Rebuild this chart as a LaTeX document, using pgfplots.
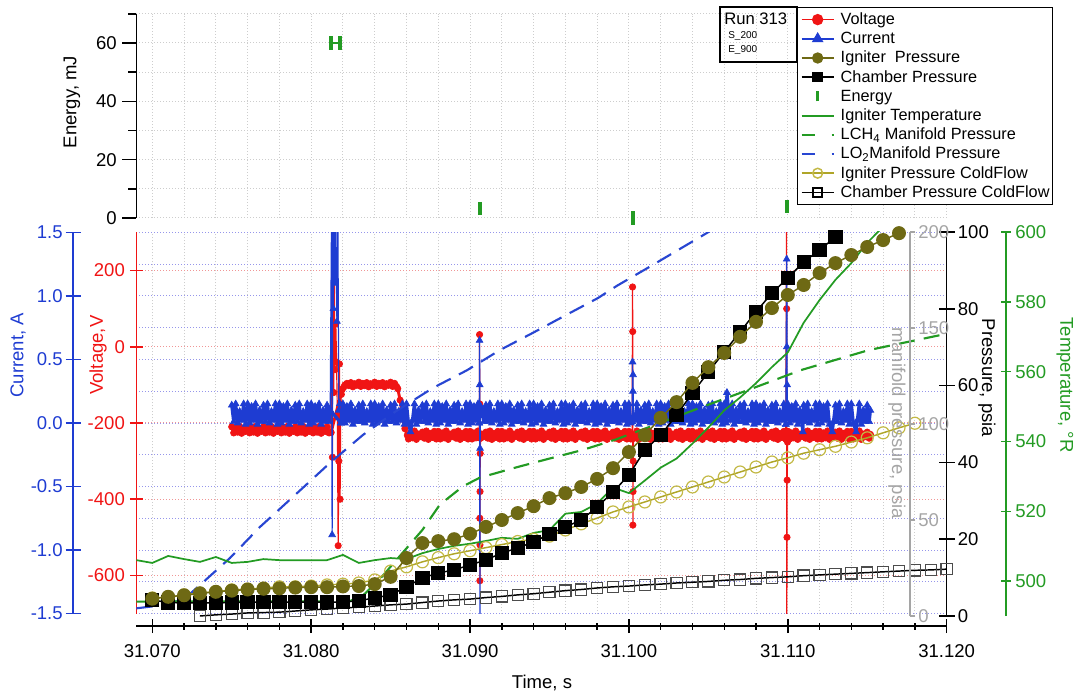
\documentclass[border=0pt]{standalone}
\usepackage{pgfplots}
\pgfplotsset{compat=1.18}
\usepackage{fontspec}
\setmainfont{Liberation Sans}
\definecolor{vred}{RGB}{240,20,20}
\definecolor{cblue}{RGB}{30,60,210}
\definecolor{olv}{RGB}{110,105,20}
\definecolor{olvl}{RGB}{195,185,70}
\definecolor{olvline}{RGB}{175,165,40}
\definecolor{grn}{RGB}{35,155,35}
\definecolor{mgray}{RGB}{165,165,165}
\definecolor{gridgray}{RGB}{205,205,205}
\definecolor{gridblue}{RGB}{150,150,235}
\definecolor{gridred}{RGB}{240,150,150}
\definecolor{lo2blue}{RGB}{40,70,210}
\pgfplotsset{
  myx/.style={scale only axis, anchor=south west, xmin=69, xmax=120, width=607.7pt},
  mycv/.style={at={(102.3pt,60.375pt)}, height=285.75pt},
  mypp/.style={at={(102.3pt,58.5pt)}, height=288pt},
  tickfont/.style={tick label style={font=\fontsize{13.9pt}{16pt}\selectfont},
                   label style={font=\fontsize{13.9pt}{16pt}\selectfont}},
  dotgrid/.style={line width=0.75pt, dash pattern=on 0.75pt off 1.5pt},
  vband/.style={vred, line width=2.2pt, line join=round, line cap=round, mark=*, mark size=2.4pt, mark options={vred, line width=0.5pt}},
  vspike/.style={vred, line width=0.9pt, mark=*, mark size=2.4pt, mark options={vred, line width=0.5pt}},
  cband/.style={cblue, line width=2.4pt, line join=round, line cap=round, mark=triangle*, mark size=2.9pt, mark options={cblue, line width=0.5pt, line join=miter}},
  cspike/.style={cblue, line width=0.9pt, mark=triangle*, mark size=2.9pt, mark options={cblue, line width=0.5pt}},
}
\begin{document}
\begin{tikzpicture}
\useasboundingbox (0,0) rectangle (807pt,520.5pt);

% ---------- energy panel grid
\begin{axis}[myx, at={(102.3pt,357pt)}, height=153.15pt, ymin=0, ymax=70,
  axis line style={draw=none}, xtick={70,72,...,120}, ytick={0,10,...,70},
  xticklabels={}, yticklabels={}, major tick length=0pt, grid=major,
  major grid style={gridgray, dotgrid}]
\end{axis}
% ---------- energy panel data + axis
\begin{axis}[myx, at={(102.3pt,357pt)}, height=153.15pt, ymin=0, ymax=70, clip=false,
  axis x line=none, axis y line*=left, axis line style={-, black, line width=1.1pt},
  ytick={0,20,40,60}, yticklabels={0,20,40,60}, minor ytick={10,30,50,70},
  tick align=outside, major tick length=10.5pt, minor tick length=6pt,
  tick style={black, line width=1.1pt},
  yticklabel style={inner sep=0pt, xshift=-4.1pt},
  ylabel={Energy, mJ}, ylabel style={at={(axis description cs:-0.0795,0.568)}, anchor=center},
  tickfont]
\addplot[grn, line width=1.5pt, mark=|, mark size=4.9pt, mark options={line width=2.6pt}]
  coordinates {(81.25,60) (81.82,60)};
\addplot[grn, only marks, mark=|, mark size=4.9pt, mark options={line width=2.6pt}]
  coordinates {(90.62,3.3) (100.25,0) (109.94,4)};
\end{axis}

% ---------- main grids
\begin{axis}[myx, mycv, ymin=-1.5, ymax=1.5, axis line style={draw=none},
  xtick={70,72,...,120}, ytick=\empty, xticklabels={}, major tick length=0pt,
  xmajorgrids, major grid style={gridgray, dotgrid}]
\end{axis}
\begin{axis}[myx, mycv, ymin=-1.5, ymax=1.5, axis line style={draw=none},
  xtick=\empty, ytick={-1.5,-1.25,...,1.5}, yticklabels={}, major tick length=0pt,
  ymajorgrids, major grid style={gridblue, dotgrid}]
\end{axis}

% ---------- voltage
\begin{axis}[myx, mycv, ymin=-700, ymax=300,
  axis x line=none, axis y line*=left, axis line style={-, vred, line width=1.1pt},
  ytick={-600,-400,-200,0,200}, yticklabels={-600,-400,-200,0,200},
  tick align=center, major tick length=9.75pt, tick style={vred, line width=1.1pt},
  yticklabel style={vred, inner sep=0pt, xshift=-3.6pt},
  ymajorgrids, major grid style={gridred, dotgrid},
  ylabel={Voltage,V}, ylabel style={vred, at={(axis description cs:-0.0474,0.678)}, anchor=center},
  tickfont]
\addplot[vband] coordinates {
(75,-210) (75.125,-226) (75.25,-213) (75.375,-224) (75.5,-209) (75.625,-227) (75.75,-215) (75.875,-222)
(76,-210) (76.125,-226) (76.25,-213) (76.375,-224) (76.5,-209) (76.625,-227) (76.75,-215) (76.875,-222)
(77,-210) (77.125,-226) (77.25,-213) (77.375,-224) (77.5,-209) (77.625,-227) (77.75,-215) (77.875,-222)
(78,-210) (78.125,-226) (78.25,-213) (78.375,-224) (78.5,-209) (78.625,-227) (78.75,-215) (78.875,-222)
(79,-210) (79.125,-226) (79.25,-213) (79.375,-224) (79.5,-209) (79.625,-227) (79.75,-215) (79.875,-222)
(80,-210) (80.125,-226) (80.25,-213) (80.375,-224) (80.5,-209) (80.625,-227) (80.75,-215) (80.875,-222)
(81,-210) (81.125,-226) (81.25,-225)
(81.95,-112)
(82.05,-106) (82.125,-100) (82.25,-96) (82.375,-102) (82.5,-94) (82.625,-105) (82.75,-97) (82.875,-101)
(83,-93) (83.125,-104) (83.25,-96) (83.375,-102) (83.5,-94) (83.625,-105) (83.75,-97) (83.875,-101)
(84,-93) (84.125,-104) (84.25,-96) (84.375,-102) (84.5,-94) (84.625,-105) (84.75,-97) (84.875,-101)
(85,-93) (85.125,-104) (85.25,-96) (85.375,-104) (85.45,-110) (85.6,-140) (85.75,-185) (85.9,-215)
(86.05,-232) (86.125,-242) (86.25,-226) (86.375,-239) (86.5,-221) (86.625,-243) (86.75,-229) (86.875,-236)
(87,-224) (87.125,-240) (87.25,-221) (87.375,-243) (87.5,-227) (87.625,-238) (87.75,-222) (87.875,-242)
(88,-222) (88.125,-242) (88.25,-226) (88.375,-239) (88.5,-221) (88.625,-243) (88.75,-229) (88.875,-236)
(89,-224) (89.125,-240) (89.25,-221) (89.375,-243) (89.5,-227) (89.625,-238) (89.75,-222) (89.875,-242)
(90,-222) (90.125,-242) (90.25,-226) (90.375,-239) (90.5,-221) (90.58,-238)
(90.66,-240) (90.75,-229) (90.875,-236)
(91,-224) (91.125,-240) (91.25,-221) (91.375,-243) (91.5,-227) (91.625,-238) (91.75,-222) (91.875,-242)
(92,-222) (92.125,-242) (92.25,-226) (92.375,-239) (92.5,-221) (92.625,-243) (92.75,-229) (92.875,-236)
(93,-224) (93.125,-240) (93.25,-221) (93.375,-243) (93.5,-227) (93.625,-238) (93.75,-222) (93.875,-242)
(94,-222) (94.125,-242) (94.25,-226) (94.375,-239) (94.5,-221) (94.625,-243) (94.75,-229) (94.875,-236)
(95,-224) (95.125,-240) (95.25,-221) (95.375,-243) (95.5,-227) (95.625,-238) (95.75,-222) (95.875,-242)
(96,-222) (96.125,-242) (96.25,-226) (96.375,-239) (96.5,-221) (96.625,-243) (96.75,-229) (96.875,-236)
(97,-224) (97.125,-240) (97.25,-221) (97.375,-243) (97.5,-227) (97.625,-238) (97.75,-222) (97.875,-242)
(98,-222) (98.125,-242) (98.25,-226) (98.375,-239) (98.5,-221) (98.625,-243) (98.75,-229) (98.875,-236)
(99,-224) (99.125,-240) (99.25,-221) (99.375,-243) (99.5,-227) (99.625,-238) (99.75,-222) (99.875,-242)
(100,-222) (100.125,-242) (100.2,-230)
(100.29,-240) (100.375,-239) (100.5,-221) (100.625,-243) (100.75,-229) (100.875,-236)
(101,-224) (101.125,-240) (101.25,-221) (101.375,-243) (101.5,-227) (101.625,-238) (101.75,-222) (101.875,-242)
(102,-222) (102.125,-242) (102.25,-226) (102.375,-239) (102.5,-221) (102.625,-243) (102.75,-229) (102.875,-236)
(103,-224) (103.125,-240) (103.25,-221) (103.375,-243) (103.5,-227) (103.625,-238) (103.75,-222) (103.875,-242)
(104,-222) (104.125,-242) (104.25,-226) (104.375,-239) (104.5,-221) (104.625,-243) (104.75,-229) (104.875,-236)
(105,-224) (105.125,-240) (105.25,-221) (105.375,-243) (105.5,-227) (105.625,-238) (105.75,-222) (105.875,-242)
(106,-222) (106.125,-242) (106.25,-226) (106.375,-239) (106.5,-221) (106.625,-243) (106.75,-229) (106.875,-236)
(107,-224) (107.125,-240) (107.25,-221) (107.375,-243) (107.5,-227) (107.625,-238) (107.75,-222) (107.875,-242)
(108,-222) (108.125,-242) (108.25,-226) (108.375,-239) (108.5,-221) (108.625,-243) (108.75,-229) (108.875,-236)
(109,-224) (109.125,-240) (109.25,-221) (109.375,-243) (109.5,-227) (109.625,-238) (109.75,-222) (109.875,-242)
(110,-222) (110.125,-242) (110.25,-226) (110.375,-239) (110.5,-221) (110.625,-243) (110.75,-229) (110.875,-236)
(111,-224) (111.125,-240) (111.25,-221) (111.375,-243) (111.5,-227) (111.625,-238) (111.75,-222) (111.875,-242)
(112,-222) (112.125,-242) (112.25,-226) (112.375,-239) (112.5,-221) (112.625,-243) (112.75,-229) (112.875,-236)
(113,-224) (113.125,-240) (113.25,-221) (113.375,-243) (113.5,-227) (113.625,-238) (113.75,-222) (113.875,-242)
(114,-222) (114.125,-242) (114.25,-226) (114.375,-239) (114.5,-221) (114.625,-243) (114.75,-229) (114.875,-236)
(115,-224) (115.125,-240) (115.2,-230)
};
\addplot[vspike] coordinates {
(81.25,-225) (81.30,320) (81.34,-290) (81.38,310) (81.42,-120) (81.46,180) (81.50,-60) (81.55,60) (81.60,-40)
(81.65,-180) (81.70,-522) (81.74,-300) (81.78,-45) (81.82,-400) (81.86,-150) (81.90,-125) (81.95,-112)};
\addplot[vspike] coordinates {
(90.58,-238) (90.60,32) (90.61,-150) (90.615,-450) (90.62,-614) (90.625,-520) (90.63,-380) (90.64,-280) (90.66,-240)};
\addplot[vspike] coordinates {
(100.2,-230) (100.23,157) (100.24,40) (100.25,-468) (100.26,-380) (100.27,-300) (100.29,-240)};
\addplot[vspike] coordinates {
(109.875,-242) (109.92,330) (109.93,100) (109.94,-720) (109.95,-500) (109.96,-350) (109.98,-250) (110,-222)};
\end{axis}

% ---------- current data
\begin{axis}[myx, mycv, ymin=-1.5, ymax=1.5, hide axis]
\addplot[cband] coordinates {
(75,0.14) (75.125,0.01) (75.25,0.15) (75.375,0) (75.5,0.09) (75.625,0.02) (75.75,0.15) (75.875,-0.01)
(76,0.15) (76.125,0) (76.25,0.13) (76.375,0.02) (76.5,0.15) (76.625,-0.01) (76.75,0.10) (76.875,0.01)
(77,0.14) (77.125,0.01) (77.25,0.15) (77.375,0) (77.5,0.09) (77.625,0.02) (77.75,0.15) (77.875,-0.01)
(78,0.15) (78.125,0) (78.25,0.13) (78.375,0.02) (78.5,0.15) (78.625,-0.01) (78.75,0.10) (78.875,0.01)
(79,0.14) (79.125,0.01) (79.25,0.15) (79.375,0) (79.5,0.09) (79.625,0.02) (79.75,0.15) (79.875,-0.01)
(80,0.15) (80.125,0) (80.25,0.13) (80.375,0.02) (80.5,0.15) (80.625,-0.01) (80.75,0.10) (80.875,0.01)
(81,0.14) (81.125,0.01) (81.2,0.10)
(81.875,0)
(82,0.15) (82.125,0) (82.25,0.13) (82.375,0.02) (82.5,0.15) (82.625,-0.01) (82.75,0.10) (82.875,0.01)
(83,0.14) (83.125,0.01) (83.25,0.15) (83.375,0) (83.5,0.09) (83.625,0.02) (83.75,0.15) (83.875,-0.01)
(84,0.15) (84.125,0) (84.25,0.13) (84.375,0.02) (84.5,0.15) (84.625,-0.01) (84.75,0.10) (84.875,0.01)
(85,0.14) (85.125,0.01) (85.25,0.15) (85.375,0) (85.5,0.09) (85.625,0.02) (85.75,0.15) (85.875,-0.01)
(86,0.15) (86.125,0) (86.25,-0.07) (86.375,0.02) (86.5,0.15) (86.625,-0.01) (86.75,0.10) (86.875,0.01)
(87,0.14) (87.125,0.01) (87.25,0.15) (87.375,0) (87.5,0.09) (87.625,0.02) (87.75,0.15) (87.875,-0.01)
(88,0.15) (88.125,0) (88.25,0.13) (88.375,0.02) (88.5,0.15) (88.625,-0.01) (88.75,0.10) (88.875,0.01)
(89,0.14) (89.125,0.01) (89.25,0.15) (89.375,0) (89.5,0.09) (89.625,0.02) (89.75,0.15) (89.875,-0.01)
(90,0.15) (90.125,0) (90.25,0.13) (90.375,0.02) (90.5,0.15) (90.58,0)
(90.66,0.13) (90.75,0.10) (90.875,0.01)
(91,0.14) (91.125,0.01) (91.25,0.15) (91.375,0) (91.5,0.09) (91.625,0.02) (91.75,0.15) (91.875,-0.01)
(92,0.15) (92.125,0) (92.25,0.13) (92.375,0.02) (92.5,0.15) (92.625,-0.01) (92.75,0.10) (92.875,0.01)
(93,0.14) (93.125,0.01) (93.25,0.15) (93.375,0) (93.5,0.09) (93.625,0.02) (93.75,0.15) (93.875,-0.01)
(94,0.15) (94.125,0) (94.25,0.13) (94.375,0.02) (94.5,0.15) (94.625,-0.01) (94.75,0.10) (94.875,0.01)
(95,0.14) (95.125,0.01) (95.25,0.15) (95.375,0) (95.5,0.09) (95.625,0.02) (95.75,0.15) (95.875,-0.01)
(96,0.15) (96.125,0) (96.25,0.13) (96.375,0.02) (96.5,0.15) (96.625,-0.01) (96.75,0.10) (96.875,0.01)
(97,0.14) (97.125,0.01) (97.25,0.15) (97.375,0) (97.5,0.09) (97.625,0.02) (97.75,0.15) (97.875,-0.01)
(98,0.15) (98.125,0) (98.25,0.13) (98.375,0.02) (98.5,0.15) (98.625,-0.01) (98.75,0.10) (98.875,0.01)
(99,0.14) (99.125,0.01) (99.25,0.15) (99.375,0) (99.5,0.09) (99.625,0.02) (99.75,0.15) (99.875,-0.01)
(100,0.15) (100.125,0) (100.2,0.01)
(100.28,0.05) (100.375,0.02) (100.5,0.15) (100.625,-0.01) (100.75,0.10) (100.875,0.01)
(101,0.14) (101.125,0.01) (101.25,0.15) (101.375,0) (101.5,0.09) (101.625,0.02) (101.75,0.15) (101.875,-0.01)
(102,0.15) (102.125,0) (102.25,0.13) (102.375,0.02) (102.5,0.15) (102.625,-0.01) (102.75,0.10) (102.875,0.01)
(103,0.14) (103.125,0.01) (103.25,0.15) (103.375,0) (103.5,0.09) (103.625,0.02) (103.75,0.15) (103.875,-0.01)
(104,0.15) (104.125,0) (104.25,0.13) (104.375,0.02) (104.5,0.15) (104.625,-0.01) (104.75,0.10) (104.875,0.01)
(105,0.14) (105.125,0.01) (105.25,0.15) (105.375,0) (105.5,0.09) (105.625,0.02) (105.75,0.15) (105.875,-0.01)
(106,0.15) (106.125,0) (106.17,0.24) (106.25,0.13) (106.375,0.02) (106.5,0.15) (106.625,-0.01) (106.75,0.10) (106.875,0.01)
(107,0.14) (107.125,0.01) (107.25,0.15) (107.375,0) (107.5,0.09) (107.625,0.02) (107.75,0.15) (107.875,-0.01)
(108,0.15) (108.125,0) (108.25,0.13) (108.375,0.02) (108.5,0.15) (108.625,-0.01) (108.75,0.10) (108.875,0.01)
(109,0.14) (109.125,0.01) (109.25,0.15) (109.375,0) (109.5,0.09) (109.625,0.02) (109.75,0.15) (109.875,-0.01)
(109.98,0.13)
(110,0.15) (110.125,0) (110.25,0.13) (110.375,0.02) (110.5,0.15) (110.625,-0.01) (110.75,0.10) (110.875,0.01) (110.95,-0.07)
(111,0.14) (111.125,0.01) (111.25,0.15) (111.375,0) (111.5,0.09) (111.625,0.02) (111.75,0.15) (111.875,-0.01)
(112,0.15) (112.125,0) (112.25,0.13) (112.375,0.02) (112.5,0.15) (112.625,-0.01) (112.8,-0.07) (112.875,0.01)
(113,0.14) (113.125,0.01) (113.25,0.15) (113.375,0) (113.5,0.09) (113.625,0.02) (113.75,0.15) (113.875,-0.01)
(114,0.15) (114.125,0) (114.3,-0.07) (114.375,0.02) (114.5,0.15) (114.625,-0.01) (114.75,0.10) (114.875,0.01)
(115,0.14) (115.125,0.01) (115.2,0.10)
};
\addplot[cspike] coordinates {
(81.2,0.10) (81.28,1.6) (81.32,-0.88) (81.36,1.6) (81.40,0.9) (81.45,1.6) (81.50,1.1) (81.55,1.6) (81.62,0.8)
(81.68,1.6) (81.74,0.1) (81.80,0.15) (81.875,0)};
\addplot[cspike] coordinates {
(90.58,0) (90.60,0.65) (90.61,0.3) (90.62,-1.6) (90.63,-0.2) (90.66,0.13)};
\addplot[cspike] coordinates {
(100.2,0.01) (100.23,0.48) (100.25,0.25) (100.26,0.38) (100.28,0.05)};
\addplot[cspike] coordinates {
(109.875,-0.01) (109.93,1.29) (109.94,0.6) (109.95,1.0) (109.96,0.3) (109.98,0.13)};
\end{axis}

% ---------- manifold pressures
\begin{axis}[myx, mypp, ymin=0, ymax=200, hide axis]
\addplot[lo2blue, line width=1.6pt, dash pattern=on 12pt off 7pt] table {
69.0 4
70.0 5
71.93 8.3
73.0 16.1
74.89 30.2
76.78 46.4
78.85 62
81.18 79.7
83.26 94.3
85.27 106.3
87.67 118.8
89.81 128
91.88 138.5
93.96 147.5
96.10 157
98.05 165.6
99.25 172
101.33 182
104.91 199.5
105.2 201
};
\addplot[grn, line width=1.6pt, dash pattern=on 12pt off 7pt] table {
69.0 7.5
82.4 7.6
83.3 11
84.3 19
85.4 29.5
87.0 44.8
88.1 58
89.55 67.5
90.6 72
92.95 77.5
95.0 82
97.1 86.5
99.2 92
101.95 100.5
104.65 109
107.6 118
110.8 128
115.1 138.5
120.0 147
};
\end{axis}

% ---------- temperature
\begin{axis}[myx, mypp, ymin=490, ymax=600, hide axis]
\addplot[grn, line width=1.3pt] table {
69 506.0
70 505.2
71 507.2
72 506.3
73 505.5
74 506.9
75 505.2
76 505.5
77 506.3
78 506.0
79 506.0
80 506.0
81 506.0
82 507.5
83 505.2
84 506.0
85 506.6
86 506.3
87 508.0
88 509.2
89 510.1
90 510.7
91 511.5
92 512.4
93 512.1
94 513.8
95 514.6
96 519.3
97 519.8
98 522.2
99 526.8
100 525.2
101 528.8
102 532.5
103 535.1
104 539.4
105 544.0
106 548.9
107 552.6
108 556.7
109 561.3
110 565.5
111 574.0
112 580.5
113 586.3
114 591.1
115 596.9
116 601.5
};
\end{axis}

% ---------- pressures (right black axis)
\begin{axis}[myx, mypp, ymin=0, ymax=100, clip mode=individual,
  axis x line=none, axis y line*=right, axis line style={-, black, line width=1.1pt},
  ytick={0,20,40,60,80,100}, yticklabels={0,20,40,60,80,100},
  tick align=center, major tick length=12pt, tick style={black, line width=1.1pt},
  yticklabel style={inner sep=0pt, xshift=2.25pt},
  ylabel={Pressure, psia}, ylabel style={at={(axis description cs:1.0497,0.6198)}, anchor=center, rotate=180},
  tickfont]
\addplot[black, line width=1.1pt, mark=square, mark size=4.2pt, mark options={black!70, line width=0.9pt}] table {
73 0.0
74 0.3
75 0.5
76 0.8
77 0.9
78 1.0
79 1.3
80 1.6
81 1.8
82 2.1
83 2.3
84 2.6
85 2.9
86 3.1
87 3.5
88 3.9
89 4.2
90 4.4
91 4.8
92 5.1
93 5.5
94 5.8
95 6.2
96 6.6
97 6.9
98 7.3
99 7.6
100 7.8
101 8.1
102 8.3
103 8.6
104 8.8
105 9.0
106 9.3
107 9.5
108 9.8
109 10.0
110 10.2
111 10.5
112 10.7
113 10.9
114 11.1
115 11.3
116 11.5
117 11.7
118 11.9
119 12.0
120 12.2
};
\addplot[olvline, line width=1.1pt, mark=o, mark size=4.5pt, mark options={olvl, line width=0.9pt}] table {
70 4.7
71 4.9
72 5.5
73 6.0
74 6.3
75 6.8
76 7.0
77 7.3
78 7.6
79 7.6
80 7.8
81 8.1
82 8.3
83 8.6
84 9.4
85 11.7
86 12.8
87 14.1
88 15.2
89 16.2
90 17.0
91 17.8
92 18.6
93 19.4
94 20.0
95 20.8
96 22.4
97 24.0
98 25.5
99 27.1
100 28.4
101 29.7
102 31.0
103 32.3
104 33.6
105 34.9
106 36.2
107 37.5
108 38.8
109 40.1
110 41.2
111 42.4
112 43.3
113 44.2
114 45.3
115 46.4
116 47.7
117 49.0
118 50.2
};
\addplot[black, line width=1.1pt, mark=square*, mark size=4.8pt] table {
70 4.2
71 3.5
72 3.4
73 3.4
74 3.4
75 3.5
76 3.6
77 3.6
78 3.6
79 3.6
80 3.6
81 3.6
82 3.6
83 4.0
84 4.7
85 5.5
86 7.6
87 9.9
88 11.2
89 12.0
90 13.3
91 14.6
92 16.4
93 17.7
94 19.3
95 21.3
96 23.2
97 25.0
98 28.4
99 32.3
100 36.7
101 43.2
102 47.1
103 52.3
104 58.1
105 63.5
106 68.8
107 74.0
108 79.2
109 84.1
110 88.0
111 92.2
112 95.3
113 98.7
};
\addplot[olv, line width=1.1pt, mark=*, mark size=4.7pt] table {
70 4.5
71 5.0
72 5.4
73 5.9
74 6.3
75 6.6
76 6.9
77 7.1
78 7.2
79 7.4
80 7.5
81 7.5
82 7.7
83 7.8
84 8.3
85 10.2
86 15.1
87 19.0
88 19.5
89 20.0
90 21.4
91 23.2
92 25.0
93 26.8
94 28.6
95 30.7
96 32.0
97 33.6
98 35.7
99 38.5
100 42.7
101 47.1
102 51.6
103 55.7
104 60.7
105 64.8
106 68.5
107 72.7
108 76.6
109 80.2
110 83.6
111 86.2
112 89.3
113 91.9
114 94.0
115 96.1
116 97.9
117 99.7
};
\end{axis}

% ---------- current axis (decor)
\begin{axis}[scale only axis, anchor=south west, at={(54.75pt,60.375pt)}, width=47.55pt, height=285.75pt,
  xmin=0, xmax=1, ymin=-1.5, ymax=1.5,
  axis x line=none, axis y line*=left, axis line style={-, cblue, line width=1.1pt},
  ytick={-1.5,-1,-0.5,0,0.5,1,1.5}, yticklabels={-1.5,-1.0,-0.5,0.0,0.5,1.0,1.5},
  tick align=center, major tick length=11.25pt, tick style={cblue, line width=1.1pt},
  yticklabel style={cblue, inner sep=0pt, xshift=-1.9pt},
  ylabel={Current, A}, ylabel style={cblue, at={(axis description cs:-0.8675,0.678)}, anchor=center},
  tickfont]
\end{axis}

% ---------- manifold axis (decor)
\begin{axis}[scale only axis, anchor=south west, at={(637.5pt,58.5pt)}, width=45pt, height=288pt,
  xmin=0, xmax=1, ymin=0, ymax=200,
  axis x line=none, axis y line*=right, axis line style={-, mgray, line width=1.1pt},
  ytick={0,50,100,150,200}, yticklabels={0,50,100,150,200},
  tick align=outside, major tick length=4pt, tick style={mgray, line width=1.1pt},
  yticklabel style={mgray, inner sep=0pt, xshift=2pt},
  ylabel={manifold pressure, psia}, ylabel style={mgray, at={(axis description cs:0.7833,0.5026)}, anchor=center, rotate=180},
  tickfont]
\end{axis}

% ---------- temperature axis (decor)
\begin{axis}[scale only axis, anchor=south west, at={(710pt,58.5pt)}, width=44.5pt, height=288pt,
  xmin=0, xmax=1, ymin=490, ymax=600,
  axis x line=none, axis y line*=right, axis line style={-, grn, line width=1.1pt},
  ytick={500,520,540,560,580,600}, yticklabels={500,520,540,560,580,600},
  tick align=center, major tick length=7.5pt, tick style={grn, line width=1.1pt},
  yticklabel style={grn, inner sep=0pt, xshift=3pt},
  ylabel={Temperature, °R}, ylabel style={grn, at={(axis description cs:1.995,0.6016)}, anchor=center, rotate=180},
  tickfont]
\end{axis}

% ---------- time axis (decor)
\begin{axis}[scale only axis, anchor=south west, at={(102.3pt,51pt)}, width=607.7pt, height=7.5pt,
  xmin=69, xmax=120, ymin=0, ymax=1,
  axis y line=none, axis x line*=bottom, axis line style={-, black, line width=1.1pt},
  xtick={70,80,90,100,110,120}, xticklabels={31.070,31.080,31.090,31.100,31.110,31.120},
  minor x tick num=4, tick align=center, major tick length=10.5pt, minor tick length=5.25pt,
  tick style={black, line width=1.1pt},
  xticklabel style={inner sep=0pt, yshift=-8.3pt},
  xlabel={Time, s}, xlabel style={at={(axis description cs:0.5006,-5.7)}, anchor=center},
  tickfont]
\end{axis}

% ---------- legend
\begin{axis}[hide axis, scale only axis, anchor=south west, at={(597.75pt,505.25pt)}, width=10pt, height=10pt,
  xmin=0, xmax=1, ymin=0, ymax=1,
  legend image code/.code={\draw[mark repeat=2,mark phase=2,#1] plot coordinates {(0pt,0pt) (12pt,0pt) (24pt,0pt)};},
  legend cell align=left,
  legend style={at={(0,1)}, anchor=north west, draw=black, line width=0.9pt, fill=white,
    font=\fontsize{12.2pt}{14.4pt}\selectfont, inner xsep=2.25pt, inner ysep=1.8pt,
    row sep=0pt, column sep=4.5pt, nodes={inner sep=0pt, text height=10.8pt, text depth=3.6pt}}]
\addlegendimage{vred, line width=1.1pt, mark=*, mark size=3.7pt, mark options={vred}}
\addlegendentry{Voltage}
\addlegendimage{cblue, line width=1.1pt, mark=triangle*, mark size=4pt, mark options={cblue}}
\addlegendentry{Current}
\addlegendimage{olv, line width=1.1pt, mark=*, mark size=3.7pt}
\addlegendentry{Igniter\ \ Pressure}
\addlegendimage{black, line width=1.1pt, mark=square*, mark size=3.4pt}
\addlegendentry{Chamber Pressure}
\addlegendimage{legend image code/.code={\draw[grn, line width=2.6pt] (12pt,-3.75pt) -- (12pt,3.75pt);}}
\addlegendentry{Energy}
\addlegendimage{grn, line width=1.4pt}
\addlegendentry{Igniter Temperature}
\addlegendimage{grn, line width=1.6pt, dash pattern=on 10pt off 12.5pt}
\addlegendentry{LCH\textsubscript{4} Manifold Pressure}
\addlegendimage{lo2blue, line width=1.6pt, dash pattern=on 10pt off 12.5pt}
\addlegendentry{LO\textsubscript{2}Manifold Pressure}
\addlegendimage{olvline, line width=1.1pt, mark=o, mark size=3.7pt, mark options={olvl}}
\addlegendentry{Igniter Pressure ColdFlow}
\addlegendimage{black, line width=1.1pt, mark=square, mark size=3.4pt, mark options={black}}
\addlegendentry{Chamber Pressure ColdFlow}
\end{axis}

% ---------- run box
\draw[line width=0.9pt] (540pt,474pt) rectangle (597.75pt,515.25pt);
\node[anchor=west, inner sep=0pt, font=\fontsize{12.5pt}{14pt}\selectfont] at (543pt,506.25pt) {Run 313};
\node[anchor=west, inner sep=0pt, font=\fontsize{7.5pt}{9pt}\selectfont] at (546pt,493.5pt) {S\_200};
\node[anchor=west, inner sep=0pt, font=\fontsize{7.5pt}{9pt}\selectfont] at (546pt,483pt) {E\_900};
\end{tikzpicture}
\end{document}
